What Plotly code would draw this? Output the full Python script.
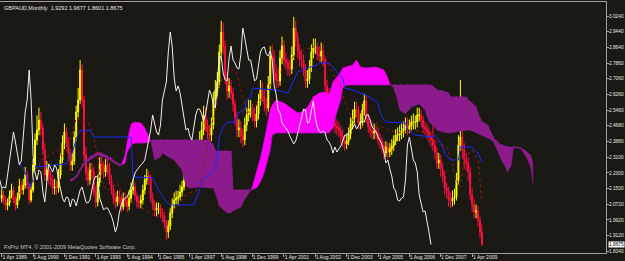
import plotly.graph_objects as go

# ---------------- data (GBPAUD monthly, month index 0 = Apr 1989) ----------------
first_open = 2.100
close = [
    2.118, 2.092, 2.067, 2.077, 2.113, 2.143, 2.092, 2.067, 2.102, 2.163,
    2.143, 2.168, 2.219, 2.168, 2.092, 2.143, 2.270, 2.396, 2.447, 2.497,
    2.457, 2.346, 2.219, 2.244, 2.204, 2.194,
    2.153, 2.158, 2.153, 2.219, 2.295, 2.381, 2.437, 2.386, 2.330, 2.270,
    2.290, 2.411, 2.538, 2.599, 2.751, 2.599, 2.320, 2.229, 2.194, 2.244,
    2.234, 2.133, 2.082, 2.184, 2.275, 2.254, 2.234, 2.270, 2.254, 2.194,
    2.148, 2.102, 2.082, 2.108, 2.102, 2.057, 2.097, 2.092, 2.062, 2.102,
    2.143, 2.158, 2.113, 2.082, 2.077, 2.092, 2.143, 2.194, 2.214, 2.204,
    2.102, 2.067, 2.042, 2.052, 2.052, 2.032, 2.011, 1.976, 1.930, 1.961,
    2.027, 2.067, 2.092, 2.102, 2.108, 2.133, 2.158, 2.194, 2.229, 2.244,
    2.259, 2.270, 2.280, 2.295, 2.346, 2.396, 2.447, 2.523, 2.472, 2.437,
    2.421, 2.472, 2.599, 2.649, 2.690, 2.842, 2.943, 2.867, 2.710, 2.644,
    2.670, 2.634, 2.578, 2.508, 2.447, 2.457, 2.416, 2.396, 2.472, 2.523,
    2.553, 2.553, 2.528, 2.492, 2.528, 2.594, 2.649, 2.624, 2.578, 2.558,
    2.675, 2.821, 2.816, 2.735, 2.700, 2.695, 2.811, 2.872, 2.801, 2.786,
    2.761, 2.756, 2.827, 2.963, 2.913, 2.847, 2.801, 2.801, 2.751, 2.695,
    2.705, 2.766, 2.842, 2.862, 2.867, 2.832, 2.821, 2.847, 2.801, 2.670,
    2.629, 2.548, 2.533, 2.482, 2.467, 2.457, 2.442, 2.416, 2.391, 2.376,
    2.391, 2.427, 2.477, 2.508, 2.553, 2.548, 2.482, 2.487, 2.548, 2.594,
    2.508, 2.462, 2.442, 2.432, 2.442, 2.432, 2.396, 2.386, 2.366, 2.330,
    2.361, 2.335, 2.351, 2.366, 2.391, 2.421, 2.421, 2.432, 2.442, 2.457,
    2.477, 2.452, 2.467, 2.487, 2.487, 2.487, 2.523, 2.523, 2.497, 2.462,
    2.452, 2.437, 2.411, 2.396, 2.371, 2.335, 2.280, 2.295, 2.249, 2.214,
    2.153, 2.138, 2.092, 2.087, 2.102, 2.108, 2.194, 2.371, 2.411, 2.346,
    2.295, 2.280, 2.234, 2.118, 2.067, 2.032, 2.037, 1.991, 1.9292, 1.8675,
]
high = [
    2.150, 2.140, 2.110, 2.100, 2.140, 2.175, 2.160, 2.110, 2.130, 2.200,
    2.190, 2.200, 2.260, 2.240, 2.180, 2.170, 2.300, 2.430, 2.520, 2.560,
    2.540, 2.480, 2.380, 2.290, 2.270, 2.240, 2.220, 2.200, 2.190, 2.250,
    2.330, 2.420, 2.480, 2.460, 2.410, 2.350, 2.330, 2.440, 2.570, 2.660,
    2.800, 2.780, 2.620, 2.360, 2.260, 2.280, 2.280, 2.260, 2.160, 2.220,
    2.310, 2.310, 2.290, 2.300, 2.300, 2.280, 2.220, 2.170, 2.130, 2.140,
    2.140, 2.120, 2.130, 2.130, 2.110, 2.140, 2.180, 2.200, 2.180, 2.130,
    2.110, 2.120, 2.170, 2.220, 2.250, 2.240, 2.220, 2.130, 2.090, 2.080,
    2.080, 2.070, 2.050, 2.030, 1.990, 1.990, 2.050, 2.100, 2.130, 2.140,
    2.140, 2.170, 2.190, 2.230, 2.260, 2.280, 2.300, 2.310, 2.320, 2.340,
    2.390, 2.440, 2.490, 2.570, 2.560, 2.500, 2.470, 2.510, 2.640, 2.700,
    2.740, 2.880, 3.000, 2.990, 2.900, 2.740, 2.710, 2.700, 2.660, 2.600,
    2.540, 2.500, 2.490, 2.450, 2.510, 2.560, 2.600, 2.600, 2.580, 2.560,
    2.570, 2.630, 2.700, 2.690, 2.650, 2.610, 2.720, 2.870, 2.880, 2.850,
    2.780, 2.760, 2.850, 2.920, 2.900, 2.840, 2.810, 2.800, 2.870, 3.020,
    3.000, 2.940, 2.880, 2.850, 2.830, 2.780, 2.750, 2.800, 2.880, 2.910,
    2.910, 2.890, 2.870, 2.890, 2.880, 2.820, 2.700, 2.660, 2.590, 2.560,
    2.520, 2.500, 2.490, 2.470, 2.450, 2.420, 2.430, 2.460, 2.510, 2.550,
    2.590, 2.590, 2.570, 2.530, 2.580, 2.630, 2.620, 2.530, 2.490, 2.470,
    2.480, 2.470, 2.460, 2.430, 2.410, 2.390, 2.390, 2.380, 2.380, 2.400,
    2.420, 2.450, 2.460, 2.470, 2.480, 2.490, 2.510, 2.510, 2.500, 2.520,
    2.530, 2.520, 2.560, 2.560, 2.550, 2.520, 2.490, 2.480, 2.460, 2.440,
    2.560, 2.400, 2.360, 2.330, 2.320, 2.280, 2.240, 2.180, 2.160, 2.130,
    2.140, 2.150, 2.230, 2.420, 2.700, 2.450, 2.380, 2.330, 2.310, 2.260,
    2.150, 2.100, 2.070, 2.060, 2.010, 1.9677,
]
low = [
    2.080, 2.070, 2.040, 2.040, 2.060, 2.100, 2.075, 2.040, 2.050, 2.090,
    2.120, 2.120, 2.150, 2.150, 2.070, 2.080, 2.130, 2.250, 2.370, 2.420,
    2.420, 2.320, 2.190, 2.190, 2.170, 2.160, 2.120, 2.120, 2.120, 2.130,
    2.200, 2.280, 2.350, 2.360, 2.300, 2.240, 2.240, 2.270, 2.390, 2.510,
    2.580, 2.560, 2.290, 2.190, 2.160, 2.170, 2.200, 2.110, 2.050, 2.060,
    2.160, 2.220, 2.200, 2.210, 2.220, 2.170, 2.120, 2.070, 2.050, 2.060,
    2.070, 2.030, 2.040, 2.060, 2.030, 2.040, 2.080, 2.120, 2.090, 2.050,
    2.050, 2.050, 2.070, 2.120, 2.170, 2.170, 2.080, 2.040, 2.010, 2.010,
    2.020, 2.000, 1.980, 1.950, 1.890, 1.900, 1.940, 2.000, 2.050, 2.070,
    2.070, 2.090, 2.110, 2.140, 2.170, 2.200, 2.210, 2.230, 2.240, 2.250,
    2.270, 2.320, 2.370, 2.420, 2.440, 2.400, 2.380, 2.390, 2.450, 2.570,
    2.610, 2.660, 2.800, 2.830, 2.680, 2.600, 2.610, 2.600, 2.540, 2.470,
    2.410, 2.410, 2.380, 2.360, 2.370, 2.440, 2.490, 2.510, 2.490, 2.460,
    2.460, 2.500, 2.570, 2.590, 2.540, 2.520, 2.540, 2.650, 2.770, 2.700,
    2.660, 2.660, 2.670, 2.780, 2.770, 2.750, 2.720, 2.720, 2.730, 2.800,
    2.870, 2.810, 2.770, 2.760, 2.720, 2.660, 2.660, 2.680, 2.740, 2.810,
    2.830, 2.800, 2.790, 2.790, 2.770, 2.640, 2.590, 2.510, 2.500, 2.450,
    2.430, 2.420, 2.410, 2.380, 2.360, 2.340, 2.350, 2.370, 2.400, 2.450,
    2.480, 2.510, 2.450, 2.450, 2.460, 2.520, 2.480, 2.430, 2.410, 2.400,
    2.400, 2.400, 2.370, 2.350, 2.330, 2.300, 2.310, 2.300, 2.310, 2.320,
    2.340, 2.370, 2.390, 2.390, 2.400, 2.410, 2.430, 2.420, 2.430, 2.440,
    2.450, 2.450, 2.460, 2.490, 2.460, 2.430, 2.420, 2.400, 2.380, 2.360,
    2.340, 2.300, 2.250, 2.250, 2.210, 2.180, 2.120, 2.100, 2.060, 2.050,
    2.060, 2.070, 2.090, 2.170, 2.340, 2.300, 2.250, 2.240, 2.190, 2.090,
    2.030, 2.000, 2.000, 1.960, 1.900, 1.8601,
]

kijun_m = [8, 9, 12, 14, 15, 17, 33, 35, 36, 39, 40, 45, 47, 66, 67, 77, 80, 84, 86, 98,
           101, 102, 107, 109, 110, 111, 113, 115, 119, 121, 123, 124, 125, 127, 128, 140,
           146, 151, 156, 161, 162, 167, 169, 171, 174, 175, 179, 184, 186, 190, 192, 193,
           195, 197, 206, 207, 209, 211, 220, 221, 223, 225, 226, 229, 233, 234, 240, 241,
           243, 245]
kijun_v = [2.280, 2.280, 2.234, 2.158, 2.158, 2.259, 2.275, 2.320, 2.330, 2.432, 2.442,
           2.447, 2.411, 2.411, 2.209, 2.204, 2.143, 2.082, 2.067, 2.067, 2.143, 2.194,
           2.229, 2.259, 2.310, 2.411, 2.462, 2.487, 2.487, 2.533, 2.548, 2.548, 2.599,
           2.614, 2.659, 2.649, 2.634, 2.740, 2.761, 2.776, 2.786, 2.786, 2.766, 2.740,
           2.710, 2.659, 2.649, 2.634, 2.624, 2.599, 2.583, 2.538, 2.497, 2.487, 2.482,
           2.447, 2.432, 2.421, 2.411, 2.421, 2.396, 2.361, 2.330, 2.295, 2.295, 2.361,
           2.361, 2.346, 2.330, 2.285]

tenkan_m = [4, 9, 16, 20, 23, 26, 29, 31, 35, 38, 44, 46, 49, 50, 52, 55, 59, 62, 65, 71,
            79, 84, 90, 93, 96, 100, 104, 106, 109, 111, 114, 118, 120, 123, 125, 128, 133,
            136, 142, 147, 151, 154, 159, 164, 169, 173, 176, 179, 183, 186, 191, 197, 203,
            210, 217, 222, 227, 230, 231, 234, 236, 240, 243, 244, 245]
tenkan_v = [2.092, 2.128, 2.178, 2.295, 2.310, 2.330, 2.346, 2.305, 2.396, 2.508, 2.482,
            2.457, 2.310, 2.209, 2.158, 2.143, 2.178, 2.108, 2.092, 2.057, 2.006, 2.027,
            2.057, 2.108, 2.128, 2.143, 2.295, 2.447, 2.533, 2.664, 2.751, 2.751, 2.735,
            2.614, 2.533, 2.548, 2.614, 2.664, 2.735, 2.801, 2.837, 2.852, 2.867, 2.837,
            2.735, 2.664, 2.563, 2.497, 2.447, 2.497, 2.482, 2.447, 2.432, 2.447, 2.432,
            2.386, 2.361, 2.280, 2.209, 2.158, 2.310, 2.346, 2.295, 2.194, 2.077]

cloud_m = [35, 38, 42, 45, 49, 52, 55, 58, 60, 61, 63, 64, 66, 68, 71, 73, 76, 77, 78, 81,
           82, 85, 88, 92, 94, 96, 101, 106, 108, 109, 111, 115, 117, 118, 122, 124, 127,
           128, 130, 132, 134, 137, 138, 140, 144, 147, 151, 153, 156, 159, 162, 165, 167,
           169, 171, 173, 174, 176, 179, 181, 183, 186, 191, 195, 197, 198, 200, 202, 203,
           206, 209, 213, 216, 218, 220, 222, 225, 228, 229, 234, 237, 238, 240, 242, 243,
           245, 247, 248, 249, 251, 252, 254, 255, 257, 258, 260, 261, 263, 265, 268, 270,
           271]
span_a = [2.184, 2.204, 2.270, 2.295, 2.320, 2.310, 2.295, 2.275, 2.264, 2.270, 2.320,
          2.386, 2.477, 2.487, 2.482, 2.457, 2.396, 2.335, 2.295, 2.310, 2.330, 2.310,
          2.295, 2.244, 2.163, 2.153, 2.158, 2.153, 2.153, 2.128, 2.062, 2.027, 2.027,
          2.037, 2.057, 2.097, 2.138, 2.163, 2.234, 2.305, 2.396, 2.548, 2.573, 2.599,
          2.583, 2.563, 2.533, 2.538, 2.563, 2.614, 2.634, 2.639, 2.624, 2.690, 2.715,
          2.740, 2.761, 2.766, 2.776, 2.801, 2.766, 2.761, 2.766, 2.751, 2.710, 2.680,
          2.659, 2.599, 2.548, 2.528, 2.563, 2.578, 2.548, 2.487, 2.472, 2.447, 2.437,
          2.432, 2.432, 2.442, 2.447, 2.447, 2.442, 2.432, 2.427, 2.421, 2.411, 2.406,
          2.401, 2.386, 2.361, 2.320, 2.295, 2.259, 2.234, 2.270, 2.356, 2.356, 2.351,
          2.305, 2.254, 2.178]
span_b = [2.194, 2.214, 2.285, 2.310, 2.335, 2.325, 2.310, 2.285, 2.275, 2.270, 2.280,
          2.335, 2.371, 2.381, 2.381, 2.381, 2.391, 2.396, 2.396, 2.396, 2.396, 2.396,
          2.396, 2.396, 2.396, 2.396, 2.396, 2.396, 2.371, 2.340, 2.340, 2.340, 2.340,
          2.143, 2.143, 2.143, 2.143, 2.148, 2.153, 2.184, 2.234, 2.346, 2.421, 2.432,
          2.432, 2.432, 2.432, 2.432, 2.432, 2.432, 2.432, 2.432, 2.432, 2.457, 2.538,
          2.599, 2.659, 2.675, 2.675, 2.675, 2.675, 2.675, 2.675, 2.675, 2.675, 2.675,
          2.675, 2.675, 2.675, 2.675, 2.675, 2.675, 2.675, 2.675, 2.670, 2.649, 2.644,
          2.634, 2.614, 2.614, 2.614, 2.599, 2.583, 2.563, 2.533, 2.487, 2.477, 2.472,
          2.447, 2.406, 2.396, 2.376, 2.371, 2.366, 2.361, 2.361, 2.361, 2.361, 2.356,
          2.335, 2.315, 2.270]

tick_m = [0, 16, 32, 48, 64, 80, 96, 112, 128, 144, 160, 176, 192, 208, 224, 240]
tick_text = ["1 Apr 1989", "1 Aug 1990", "1 Dec 1991", "1 Apr 1993", "1 Aug 1994",
             "1 Dec 1995", "1 Apr 1997", "1 Aug 1998", "1 Dec 1999", "1 Apr 2001",
             "1 Aug 2002", "1 Dec 2003", "1 Apr 2005", "1 Aug 2006", "1 Dec 2007",
             "1 Apr 2009"]
price_ticks = [3.0240, 2.9440, 2.8640, 2.7860, 2.7060, 2.6260, 2.5460, 2.4680, 2.3880,
               2.3100, 2.2300, 2.1500, 2.0720, 1.9920, 1.9120, 1.8340]
chikou_shift = 26

# ---------------- figure ----------------
BG = "#1a1914"
bars = list(range(len(close)))
opens = [first_open] + close[:-1]

fig = go.Figure()
fig.add_trace(go.Candlestick(
    x=bars, open=opens, high=high, low=low, close=close,
    increasing=dict(line=dict(color="#ffff00", width=1), fillcolor="#ffff00"),
    decreasing=dict(line=dict(color="#ff1040", width=1), fillcolor="#ff1040"),
    whiskerwidth=0, showlegend=False, hoverinfo="skip"))

# cloud polygons (magenta where span A above span B, purple otherwise)
runs = []
cur = None
for i in range(len(cloud_m)):
    up = span_a[i] >= span_b[i]
    pt = (cloud_m[i], span_a[i], span_b[i])
    if cur is None:
        cur = [up, [pt]]
        continue
    if up == cur[0]:
        cur[1].append(pt)
    else:
        m0, a0, b0 = cloud_m[i - 1], span_a[i - 1], span_b[i - 1]
        d0, d1 = a0 - b0, span_a[i] - span_b[i]
        t = d0 / (d0 - d1)
        xc = m0 + t * (cloud_m[i] - m0)
        yc = a0 + t * (span_a[i] - a0)
        cur[1].append((xc, yc, yc))
        runs.append(cur)
        cur = [up, [(xc, yc, yc), pt]]
runs.append(cur)
for up, pts in runs:
    xs = [p[0] for p in pts] + [p[0] for p in reversed(pts)]
    ys = [p[1] for p in pts] + [p[2] for p in reversed(pts)]
    col = "#ff00ff" if up else "#8c1c8c"
    fig.add_trace(go.Scatter(x=xs, y=ys, fill="toself", fillcolor=col, mode="lines",
                             line=dict(width=0.5, color=col), showlegend=False,
                             hoverinfo="skip"))

fig.add_trace(go.Scatter(x=cloud_m, y=span_b, mode="lines",
                         line=dict(color="#8c1c8c", width=1, dash="dot"),
                         showlegend=False, hoverinfo="skip"))
fig.add_trace(go.Scatter(x=tenkan_m, y=tenkan_v, mode="lines",
                         line=dict(color="#a01808", width=1, dash="dot"),
                         showlegend=False, hoverinfo="skip"))
fig.add_trace(go.Scatter(x=kijun_m, y=kijun_v, mode="lines",
                         line=dict(color="#1a2cff", width=1),
                         showlegend=False, hoverinfo="skip"))
fig.add_trace(go.Scatter(x=[m - chikou_shift for m in bars], y=close, mode="lines",
                         line=dict(color="#f0f0f0", width=1),
                         showlegend=False, hoverinfo="skip"))

FONT = "Liberation Sans"
fig.add_annotation(xref="paper", yref="paper", x=0.004, y=0.995, xanchor="left",
                   yanchor="top", showarrow=False,
                   text="GBPAUD,Monthly  1.9292 1.9677 1.8601 1.8675",
                   font=dict(family=FONT, size=5.5, color="#e8e8e8"))
fig.add_annotation(xref="paper", yref="paper", x=0.004, y=0.005, xanchor="left",
                   yanchor="bottom", showarrow=False,
                   text="FxPro MT4, © 2001-2009 MetaQuotes Software Corp.",
                   font=dict(family=FONT, size=5.5, color="#c8c8c8"))
fig.add_annotation(xref="paper", yref="y", x=1.0, y=close[-1], xanchor="left",
                   yanchor="middle", showarrow=False, text="%.4f" % close[-1],
                   bgcolor="#ffffff", borderpad=0, xshift=2,
                   font=dict(family=FONT, size=4.8, color="#000000"))

fig.update_layout(
    width=625, height=261, margin=dict(l=0, r=19, t=2, b=8, autoexpand=False),
    paper_bgcolor=BG, plot_bgcolor=BG,
    xaxis=dict(range=[-0.87, 308.3], showgrid=False, zeroline=False, automargin=False,
               rangeslider=dict(visible=False), tickmode="array", tickvals=tick_m,
               ticktext=tick_text, ticks="outside", ticklen=3, tickcolor="#a0a0a0",
               showline=True, linecolor="#a0a0a0", linewidth=1, mirror=True,
               ticklabelshift=13, ticklabelstandoff=-4,
               tickfont=dict(family=FONT, size=5, color="#e8e8e8")),
    yaxis=dict(range=[1.824, 3.0949], side="right", showgrid=False, zeroline=False,
               automargin=False,
               tickmode="array", tickvals=price_ticks,
               ticktext=["%.4f" % v for v in price_ticks], ticks="outside", ticklen=2,
               ticklabelstandoff=-1,
               tickcolor="#a0a0a0", showline=True, linecolor="#a0a0a0", linewidth=1,
               tickfont=dict(family=FONT, size=4.8, color="#e8e8e8")),
)

fig.write_html("out.html")
